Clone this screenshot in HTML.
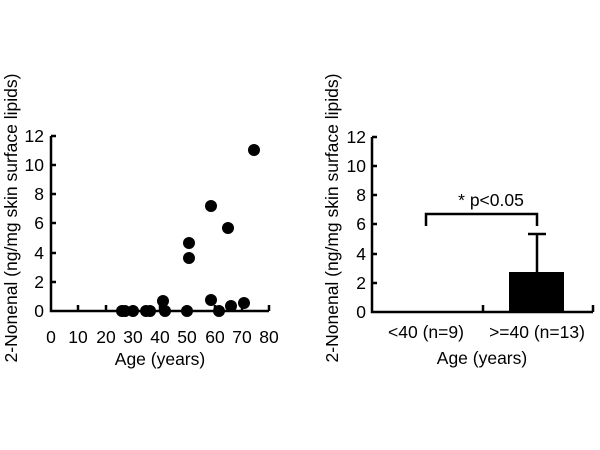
<!DOCTYPE html>
<html><head><style>
html,body{margin:0;padding:0;background:#fff;}
svg{display:block;}
text{font-family:"Liberation Sans",Arial,sans-serif;fill:#000;}
</style></head><body>
<svg width="600" height="450" viewBox="0 0 600 450">
<g stroke="#000" stroke-width="2.5" fill="none">
<path d="M51,136 V311 H269"/>
<path d="M51,136 H56 M51,165 H56 M51,194 H56 M51,223 H56 M51,253 H56 M51,282 H56"/>
<path d="M78,311 V305 M106,311 V305 M133,311 V305 M160,311 V305 M187,311 V305 M215,311 V305 M242,311 V305 M269,311 V305"/>
<path d="M372,137 V312 H593"/>
<path d="M372,137 H377 M372,166 H377 M372,195 H377 M372,224 H377 M372,254 H377 M372,283 H377"/>
<path d="M483,312 V305 M593,312 V305"/>
<path d="M537,272 V234 M528,234 H546"/>
<path d="M426,226 V214 H537 V226"/>
</g>
<rect x="509" y="272" width="55" height="40" fill="#000"/>
<g fill="#000">
<circle cx="122" cy="311" r="6"/><circle cx="125" cy="311" r="6"/><circle cx="133" cy="311" r="6"/><circle cx="146" cy="311" r="6"/><circle cx="150" cy="311" r="6"/>
<circle cx="163" cy="301" r="6"/><circle cx="165" cy="311" r="6"/><circle cx="187" cy="311" r="6"/>
<circle cx="189" cy="243" r="6"/><circle cx="189" cy="258" r="6"/>
<circle cx="211" cy="206" r="6"/><circle cx="211" cy="300" r="6"/><circle cx="219" cy="311" r="6"/>
<circle cx="228" cy="228" r="6"/><circle cx="231" cy="306" r="6"/><circle cx="244" cy="303" r="6"/><circle cx="254" cy="150" r="6"/>
</g>
<g font-size="17.5" text-anchor="end">
<text x="44" y="142">12</text><text x="44" y="171">10</text><text x="44" y="200">8</text><text x="44" y="229">6</text><text x="44" y="259">4</text><text x="44" y="288">2</text><text x="44" y="317">0</text>
<text x="366" y="143">12</text><text x="366" y="172">10</text><text x="366" y="201">8</text><text x="366" y="230">6</text><text x="366" y="260">4</text><text x="366" y="289">2</text><text x="366" y="318">0</text>
</g>
<g font-size="17.5" text-anchor="middle">
<text x="51" y="343">0</text><text x="78" y="343">10</text><text x="106" y="343">20</text><text x="133" y="343">30</text><text x="160" y="343">40</text><text x="187" y="343">50</text><text x="215" y="343">60</text><text x="242" y="343">70</text><text x="269" y="343">80</text>
<text x="160" y="365">Age (years)</text>
<text x="426" y="338">&lt;40 (n=9)</text>
<text x="537" y="338">&gt;=40 (n=13)</text>
<text x="482" y="364">Age (years)</text>
<text x="491" y="206">* p&lt;0.05</text>
<text transform="translate(17,218) rotate(-90)">2-Nonenal (ng/mg skin surface lipids)</text>
<text transform="translate(338,218) rotate(-90)">2-Nonenal (ng/mg skin surface lipids)</text>
</g>
</svg>
</body></html>
